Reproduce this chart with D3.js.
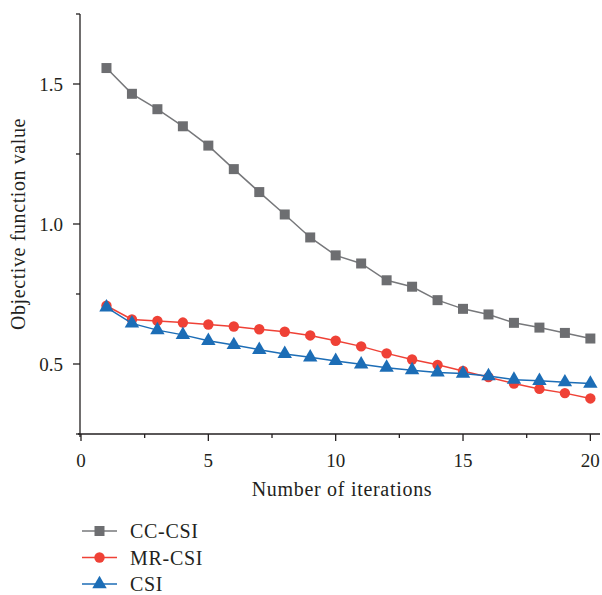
<!DOCTYPE html>
<html>
<head>
<meta charset="utf-8">
<script src="https://cdn.jsdelivr.net/npm/d3@7"></script>
<style>
  html, body { margin: 0; padding: 0; background: #fff; }
  svg { display: block; }
  text { font-family: "Liberation Serif", "DejaVu Serif", serif; fill: #231f20; }
</style>
</head>
<body>
<svg id="chart" width="602" height="595"></svg>
<script>
// Iteration numbers shared by all methods
const iterations = d3.range(1, 21);

// Objective function value per iteration
const ccCsi = [1.557, 1.465, 1.410, 1.349, 1.280, 1.196, 1.114, 1.034, 0.952, 0.888,
               0.859, 0.799, 0.776, 0.728, 0.697, 0.677, 0.647, 0.630, 0.611, 0.591];
const mrCsi = [0.708, 0.659, 0.654, 0.648, 0.641, 0.634, 0.624, 0.615, 0.602, 0.583,
               0.563, 0.538, 0.516, 0.497, 0.475, 0.453, 0.430, 0.411, 0.396, 0.377];
const csi   = [0.702, 0.645, 0.621, 0.604, 0.583, 0.568, 0.551, 0.536, 0.524, 0.511,
               0.499, 0.487, 0.478, 0.470, 0.466, 0.457, 0.444, 0.440, 0.435, 0.430];

const seriesNames = ["CC-CSI", "MR-CSI", "CSI"];
const xTicks = [0, 5, 10, 15, 20];
const yTicks = [0.5, 1.0, 1.5];

const series = [
  { name: seriesNames[0], values: ccCsi, line: "#77787b", fill: "#6d6e71", shape: d3.symbolSquare, size: 100 },
  { name: seriesNames[1], values: mrCsi, line: "#ef4136", fill: "#ef4136", shape: d3.symbolCircle, size: 85 },
  { name: seriesNames[2], values: csi,   line: "#1c6db6", fill: "#1c6db6", shape: d3.symbolTriangle, size: 90 }
];

const svg = d3.select("#chart");
const plotLeft = 81, plotRight = 598, plotTop = 14, plotBottom = 434;

const x = d3.scaleLinear().domain([0, 20.3]).range([plotLeft, plotRight]);
const y = d3.scaleLinear().domain([0.25, 1.75]).range([plotBottom, plotTop]);

// Axes: major ticks with labels, unlabelled minor ticks between them
const axisColor = "#231f20";
const xAxis = svg.append("g").attr("transform", `translate(0,${plotBottom})`);
xAxis.append("line").attr("x1", plotLeft - 3).attr("x2", plotRight + 2).attr("stroke", axisColor).attr("stroke-width", 1.3);
xAxis.selectAll(".maj").data(xTicks).join("line").attr("class", "maj")
  .attr("x1", d => x(d)).attr("x2", d => x(d)).attr("y1", 0).attr("y2", 7)
  .attr("stroke", axisColor).attr("stroke-width", 1.3);
xAxis.selectAll(".min").data(d3.range(2.5, 20, 5)).join("line").attr("class", "min")
  .attr("x1", d => x(d)).attr("x2", d => x(d)).attr("y1", 0).attr("y2", 4)
  .attr("stroke", axisColor).attr("stroke-width", 1.3);
xAxis.selectAll("text").data(xTicks).join("text")
  .attr("x", d => x(d)).attr("y", 32.5).attr("text-anchor", "middle")
  .attr("font-size", 19).text(d => d);

const yAxis = svg.append("g").attr("transform", `translate(${plotLeft - 1},0)`);
yAxis.append("line").attr("y1", plotTop).attr("y2", plotBottom + 3).attr("stroke", axisColor).attr("stroke-width", 1.3);
yAxis.selectAll(".maj").data(yTicks).join("line").attr("class", "maj")
  .attr("y1", d => y(d)).attr("y2", d => y(d)).attr("x1", 0).attr("x2", -7)
  .attr("stroke", axisColor).attr("stroke-width", 1.3);
yAxis.selectAll(".min").data([0.25, 0.75, 1.25, 1.75]).join("line").attr("class", "min")
  .attr("y1", d => y(d)).attr("y2", d => y(d)).attr("x1", 0).attr("x2", -4)
  .attr("stroke", axisColor).attr("stroke-width", 1.3);
yAxis.selectAll("text").data(yTicks).join("text")
  .attr("x", -17).attr("y", d => y(d)).attr("dy", "0.35em").attr("text-anchor", "end")
  .attr("font-size", 19).text(d => d.toFixed(1));

// Axis titles
svg.append("text").attr("x", 342).attr("y", 496).attr("text-anchor", "middle")
  .attr("font-size", 20).attr("letter-spacing", 0.7).text("Number of iterations");
svg.append("text").attr("transform", "translate(25,224) rotate(-90)")
  .attr("text-anchor", "middle").attr("font-size", 20).attr("letter-spacing", 0.6)
  .text("Objective function value");

// Lines and markers
const line = d3.line().x((d, i) => x(iterations[i])).y(d => y(d));
series.forEach(s => {
  const g = svg.append("g");
  g.append("path").attr("d", line(s.values)).attr("fill", "none")
    .attr("stroke", s.line).attr("stroke-width", 1.5);
  g.selectAll("path.m").data(s.values).join("path").attr("class", "m")
    .attr("d", d3.symbol().type(s.shape).size(s.size))
    .attr("transform", (d, i) => `translate(${x(iterations[i])},${y(d)})`)
    .attr("fill", s.fill);
});

// Legend
const legend = svg.append("g").attr("transform", "translate(82,531)");
series.forEach((s, i) => {
  const row = legend.append("g").attr("transform", `translate(0,${i * 26.5})`);
  row.append("line").attr("x1", 0).attr("x2", 35).attr("stroke", s.line).attr("stroke-width", 1.5);
  row.append("path").attr("d", d3.symbol().type(s.shape).size(s.size)())
    .attr("transform", "translate(17.5,0)").attr("fill", s.fill);
  row.append("text").attr("x", 48).attr("y", 0).attr("dy", "0.35em")
    .attr("font-size", 20).attr("letter-spacing", 0.7).text(s.name);
});
</script>
</body>
</html>
